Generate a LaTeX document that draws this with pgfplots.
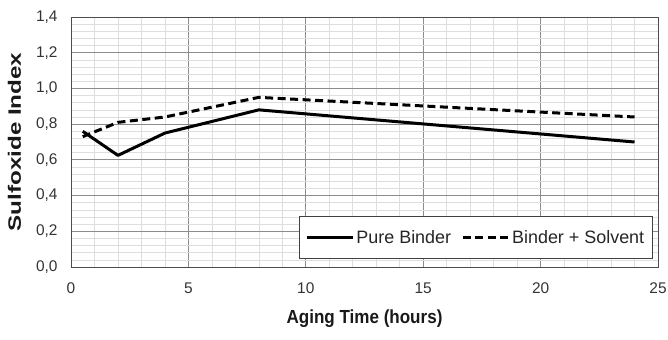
\documentclass[border=0pt]{standalone}
\usepackage{pgfplots}
\pgfplotsset{compat=1.18}
\usepackage{fontspec}
\setmainfont{Liberation Sans}
\begin{document}
\begin{tikzpicture}[x=1bp,y=1bp]
\useasboundingbox (-71bp,-73bp) rectangle (597bp,267bp);
\begin{axis}[
  at={(0,0)}, anchor=origin,
  scale only axis, width=587bp, height=250bp,
  xmin=0, xmax=25, ymin=0, ymax=1.4,
  xtick={0,5,...,25}, ytick={0,0.2,...,1.4},
  minor x tick num=4, minor y tick num=4,
  grid=both,
  major grid style={draw=black!45, line width=0.8pt},
  minor grid style={draw=black!13, line width=0.6pt},
  axis line style={draw=black!70, line width=1pt},
  tick style={draw=none},
  /pgf/number format/assume math mode=true,
  xticklabel style={yshift=-12bp},
  yticklabel style={xshift=-10bp, /pgf/number format/.cd, use comma, fixed, fixed zerofill, precision=1},
  ticklabel style={font=\fontsize{15.5}{17}\selectfont, text=black!80},
  xlabel={\scalebox{0.9}[1]{\textbf{Aging Time (hours)}}},
  ylabel={\scalebox{1.35}[1]{\textbf{Sulfoxide Index}}},
  label style={text=black!90},
  xlabel style={font=\fontsize{19}{21}\selectfont, yshift=-9bp},
  ylabel style={font=\fontsize{18}{20}\selectfont, yshift=8bp},
  legend columns=2,
  legend style={at={(rel axis cs:0.991,0.032)}, anchor=south east,
    font=\fontsize{18}{21}\selectfont, draw=black!75, line width=1pt,
    inner xsep=6bp, inner ysep=12bp,
    text=black!85,
    /tikz/every odd column/.append style={column sep=0bp},
    /tikz/every even column/.append style={column sep=8bp}},
  legend image code/.code={\draw[#1, line width=3bp] (0bp,0bp) -- (46bp,0bp);},
]
\addplot[black, line width=3bp, line join=round] coordinates {
  (0.5,0.76) (2,0.625) (4,0.75) (8,0.88) (24,0.70)};
\addlegendentry{Pure Binder}
\addplot[black, line width=3bp, dash pattern=on 8bp off 4.5bp] coordinates {
  (0.5,0.73) (2,0.81) (4,0.84) (8,0.95) (24,0.84)};
\addlegendentry{Binder + Solvent}
\end{axis}
\end{tikzpicture}
\end{document}
